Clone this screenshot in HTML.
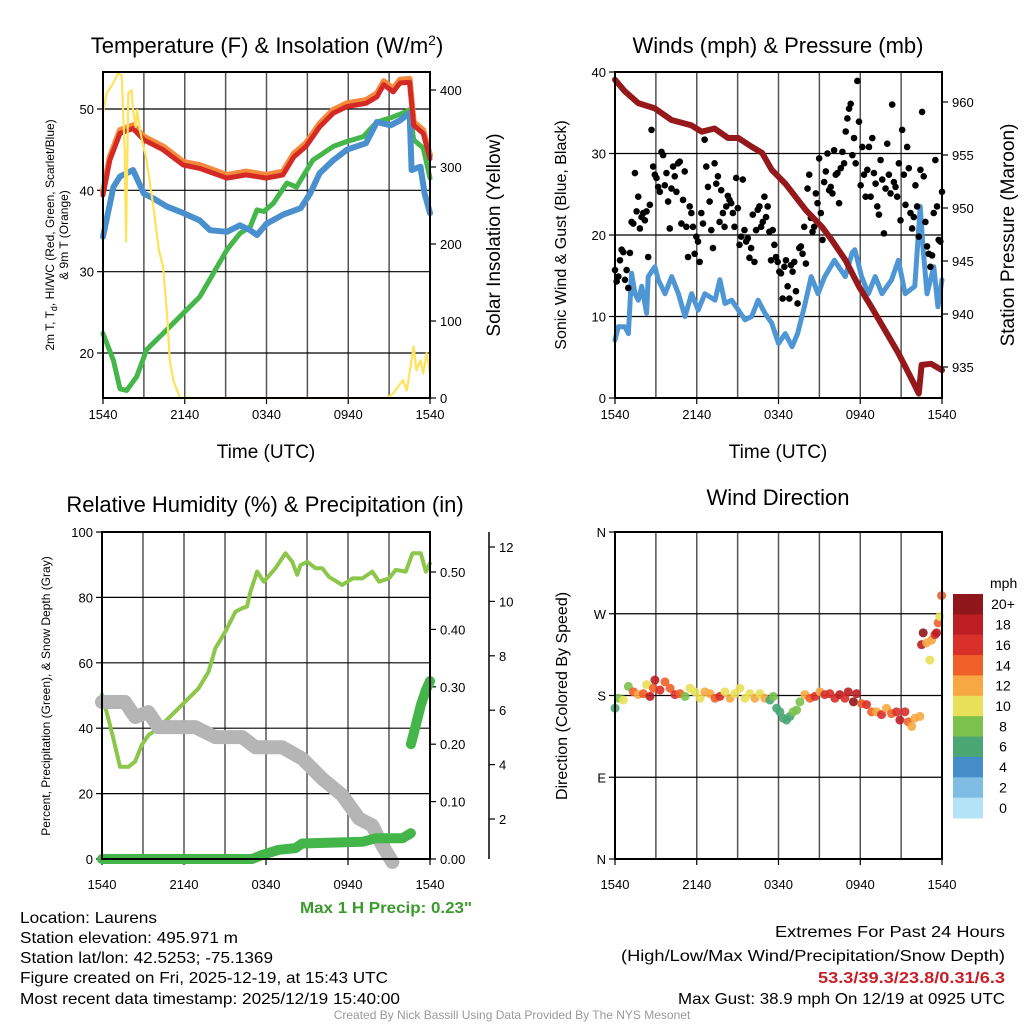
<!DOCTYPE html>
<html><head><meta charset="utf-8"><style>
html,body{margin:0;padding:0;background:#fff;}
svg{display:block;font-family:"Liberation Sans",sans-serif;}
</style></head><body>
<svg id="root" width="1024" height="1024" viewBox="0 0 1024 1024" xmlns="http://www.w3.org/2000/svg">
<rect width="1024" height="1024" fill="#fff"/>
<g id="g1"></g>
<g id="g2"></g>
<g id="g3"></g>
<g id="g4"></g>

<text x="267" y="53" font-size="22" text-anchor="middle">Temperature (F) &amp; Insolation (W/m<tspan dy="-8" font-size="14">2</tspan><tspan dy="8">)</tspan></text>
<text transform="translate(54,235) rotate(-90)" font-size="12" text-anchor="middle">2m T, T<tspan dy="3" font-size="9">d</tspan><tspan dy="-3">, HI/WC (Red, Green, Scarlet/Blue)</tspan></text>
<text transform="translate(68,235) rotate(-90)" font-size="12" text-anchor="middle">&amp; 9m T (Orange)</text>
<text transform="translate(500,235) rotate(-90)" font-size="19" text-anchor="middle">Solar Insolation (Yellow)</text>
<text x="266" y="458" font-size="19" text-anchor="middle">Time (UTC)</text>

<text x="778" y="53" font-size="22" text-anchor="middle">Winds (mph) &amp; Pressure (mb)</text>
<text transform="translate(566,235) rotate(-90)" font-size="16" text-anchor="middle">Sonic Wind &amp; Gust (Blue, Black)</text>
<text transform="translate(1014,235) rotate(-90)" font-size="19" text-anchor="middle">Station Pressure (Maroon)</text>
<text x="778" y="458" font-size="19" text-anchor="middle">Time (UTC)</text>

<text x="265" y="512" font-size="22" text-anchor="middle">Relative Humidity (%) &amp; Precipitation (in)</text>
<text transform="translate(50,696) rotate(-90)" font-size="12" text-anchor="middle">Percent, Precipitation (Green), &amp; Snow Depth (Gray)</text>
<text x="300" y="913" font-size="16" font-weight="bold" fill="#3a9a2c" textLength="172" lengthAdjust="spacingAndGlyphs">Max 1 H Precip: 0.23"</text>

<text x="778" y="505" font-size="22" text-anchor="middle">Wind Direction</text>
<text transform="translate(567,696) rotate(-90)" font-size="16" text-anchor="middle">Direction (Colored By Speed)</text>
<text x="990" y="588" font-size="14">mph</text>

<g font-size="16">
<text x="20" y="923" textLength="137" lengthAdjust="spacingAndGlyphs">Location: Laurens</text>
<text x="20" y="943" textLength="218" lengthAdjust="spacingAndGlyphs">Station elevation: 495.971 m</text>
<text x="20" y="963" textLength="253" lengthAdjust="spacingAndGlyphs">Station lat/lon: 42.5253; -75.1369</text>
<text x="20" y="983" textLength="368" lengthAdjust="spacingAndGlyphs">Figure created on Fri, 2025-12-19, at 15:43 UTC</text>
<text x="20" y="1004" textLength="380" lengthAdjust="spacingAndGlyphs">Most recent data timestamp: 2025/12/19 15:40:00</text>
</g>
<g font-size="16">
<text x="775" y="937" textLength="230" lengthAdjust="spacingAndGlyphs">Extremes For Past 24 Hours</text>
<text x="621" y="961" textLength="384" lengthAdjust="spacingAndGlyphs">(High/Low/Max Wind/Precipitation/Snow Depth)</text>
<text x="818" y="983" textLength="187" lengthAdjust="spacingAndGlyphs" font-weight="bold" fill="#c8202a">53.3/39.3/23.8/0.31/6.3</text>
<text x="678" y="1004" textLength="327" lengthAdjust="spacingAndGlyphs">Max Gust: 38.9 mph On 12/19 at 0925 UTC</text>
</g>
<text x="512" y="1019" font-size="12" fill="#999" text-anchor="middle">Created By Nick Bassill Using Data Provided By The NYS Mesonet</text>
</svg>
<script>
// ---------- data ----------
const xTickLabels = ["1540","2140","0340","0940","1540"];
const tempHours = [0,0.5,1.25,2.2,3.0,4.4,5.9,7.1,9.1,10.5,12.0,13.2,14.0,14.9,15.9,16.9,17.9,19.3,20.1,20.6,21.3,21.8,22.5,22.8,23.5,24];
const tempVals = [39.4,43.7,47.0,47.6,46.2,45.0,43.1,42.7,41.5,41.9,41.5,41.9,44.1,45.4,47.8,49.5,50.3,50.7,51.5,53.0,52.1,53.2,53.3,48.0,47.0,43.9];
const dewHours = [0,0.76,1.25,2.2,3.0,3.7,4.7,5.9,7.1,7.85,9.1,10.05,10.8,11.3,12.0,13.2,14.5,15.2,15.9,16.9,17.9,19.3,20.1,21.1,21.8,22.5,22.65,23.3,23.6,24];
const dewVals = [34.3,40.4,41.7,42.5,39.6,39.0,38.0,37.2,36.3,35.1,34.9,35.7,35.1,34.5,35.9,37.0,37.8,39.6,42.1,43.7,45.0,45.8,48.4,48.0,48.6,49.5,42.5,42.9,39.6,37.2];
const wcHours = [0,0.76,1.25,1.74,2.47,3.2,4.4,5.9,7.1,8.1,9.1,10.05,10.8,11.3,11.8,12.5,13.5,14.2,15.4,16.9,17.9,19.1,20.1,21.1,22.0,22.5,22.8,23.5,24];
const wcVals = [22.4,19.1,15.6,15.4,17.1,20.4,22.4,24.9,26.9,29.8,32.7,34.7,35.5,37.6,37.4,38.4,40.9,40.4,43.7,45.4,46.0,46.6,48.4,48.9,49.5,49.9,46.2,45.2,41.5];
const solarHours = [0,0.27,0.76,1.1,1.37,1.6,1.69,1.86,2.1,2.2,2.4,2.5,2.7,3.2,3.7,4.1,4.4,4.7,4.9,5.16,5.65,20.8,21.3,22.0,22.3,22.8,23.0,23.3,23.5,23.75,24];
const solarVals = [370,396,409,422,419,318,203,396,400,374,352,374,348,309,248,192,171,110,49,23,0,0,6,23,10,67,36,49,32,58,32];

const presHours = [0,0.73,1.7,2.93,4.15,5.6,6.36,7.3,8.3,9.05,10.0,10.8,11.5,12.5,14.0,15.2,15.9,16.9,17.9,18.8,19.8,20.8,21.8,22.3,22.5,23.2,24];
const presVals = [962.1,961.0,959.9,959.4,958.3,957.8,957.2,957.5,956.6,956.6,955.8,955.2,953.6,952.3,949.8,948.2,947.0,945.1,942.6,940.7,938.5,936.3,933.8,932.5,935.2,935.3,934.7];
const windHours = [0,0.24,0.73,0.98,1.22,1.47,1.71,1.96,2.32,2.44,2.93,3.18,3.67,4.16,4.65,5.14,5.62,6.11,6.6,7.34,7.7,8.07,8.56,9.05,9.54,10.03,10.5,11.0,11.5,12.0,12.5,13.0,13.4,13.9,14.4,14.9,15.4,16.1,16.9,17.4,17.6,18.1,18.6,19.1,19.6,20.3,20.8,21.3,22.0,22.4,22.6,22.9,23.4,23.7,24];
const windVals = [7.1,8.75,8.75,7.9,15.3,12.8,12.0,13.7,10.4,14.9,16.1,14.5,12.8,14.9,12.8,10.0,12.8,10.8,12.8,12.0,14.5,11.6,12.0,10.8,9.6,10.0,12.0,10.4,9.2,6.7,7.9,6.3,7.9,11.2,14.9,12.8,14.9,16.9,14.9,17.8,18.2,14.9,12.8,14.9,12.8,14.5,16.9,12.8,13.7,23.5,18.6,12.8,16.1,11.2,14.5];
const gustVals = [15.7,14.3,14.9,16.9,18.2,17.9,14.5,15.7,13.5,17.8,21.6,21.4,27.6,22.9,24.7,20.8,22.2,22.7,21.8,22.9,17.3,23.7,32.9,28.4,27.4,27.0,25.9,25.3,30.2,29.8,26.1,27.6,24.1,20.8,25.7,28.4,27.2,25.3,28.8,29.0,21.4,24.3,27.8,21.0,17.3,23.5,22.7,21.0,17.7,19.8,19.2,16.7,22.7,21.4,31.7,28.4,25.9,24.1,20.6,18.4,28.8,26.3,27.2,21.6,25.5,22.7,21.0,23.5,24.8,24.3,23.9,22.7,21.0,27.0,23.3,18.8,19.8,26.8,20.6,19.2,19.6,17.2,18.4,22.5,16.7,20.6,23.1,23.5,21.0,21.6,24.7,22.2,23.5,20.4,16.9,20.6,18.8,17.3,16.7,15.5,15.3,12.2,16.1,16.9,13.7,12.2,16.3,15.5,16.7,13.1,11.6,18.4,18.6,17.7,21.0,16.5,25.7,27.4,22.1,20.4,21.0,25.1,23.9,29.4,22.7,19.4,26.5,27.8,30.0,25.5,25.9,25.1,30.4,27.4,27.6,23.9,28.2,30.2,28.8,32.7,34.3,35.5,36.1,29.8,31.9,28.8,38.9,33.9,26.1,30.8,27.4,24.7,28.0,30.8,24.7,31.9,27.6,26.3,23.5,22.5,29.2,26.8,20.2,25.7,31.2,27.4,25.1,36.0,26.5,25.9,24.7,28.8,21.8,32.9,27.4,23.7,30.8,28.2,22.7,20.8,22.2,26.1,23.5,19.8,28.0,35.1,27.2,21.6,18.6,17.7,16.1,17.5,22.7,29.2,23.5,19.4,19.2,25.3];

const rhHours = [0,0.46,0.83,1.32,1.93,2.42,2.91,3.4,4.13,5.1,6.09,7.07,7.8,8.29,9.02,9.76,10.25,10.61,10.86,11.35,11.84,12.69,13.43,13.92,14.28,14.53,15.02,15.63,16.12,16.6,17.58,18.32,19.05,19.78,20.27,21.0,21.49,22.23,22.72,23.33,23.7,24];
const rhVals = [50.2,43.0,36.9,28.2,28.2,29.8,34.9,37.9,40.0,44.0,48.1,52.2,57.3,64.4,69.5,75.6,76.7,77.2,81.7,87.9,84.8,88.9,93.5,90.9,86.9,89.9,90.9,88.9,88.9,86.3,83.8,85.8,85.8,87.9,84.8,85.8,88.4,87.9,93.5,93.5,87.9,90.4];
const snowHours = [0,1.68,2.42,3.4,4.13,6.82,8.29,10.25,11.22,13.18,14.65,16.12,17.58,18.81,19.78,20.51,21.25];
const snowVals = [6.3,6.3,5.75,5.93,5.38,5.38,5.01,5.01,4.64,4.64,4.22,3.48,2.87,2.01,1.76,1.03,0.42];
const precipHours = [0,10.98,11.71,12.93,14.16,14.65,19.05,20.03,21.98,22.6];
const precipVals = [0,0,0.007,0.016,0.019,0.027,0.030,0.036,0.036,0.045];
const precip2Hours = [22.6,22.96,23.33,23.7,24];
const precip2Vals = [0.20,0.233,0.268,0.294,0.31];

const dirHours = [0,0.24,0.61,0.98,1.35,1.71,2.08,2.32,2.57,2.81,2.93,3.3,3.67,4.04,4.4,4.77,5.14,5.5,5.87,6.24,6.6,6.97,7.34,7.7,8.07,8.44,8.8,9.17,9.54,9.9,10.27,10.64,11.0,11.37,11.62,11.86,12.1,12.35,12.59,12.84,13.08,13.33,13.57,13.94,14.3,14.67,15.04,15.4,15.77,16.14,16.5,16.87,17.12,17.5,17.73,18.1,18.46,18.83,19.2,19.56,19.93,20.3,20.67,20.91,21.28,21.52,21.77,22.01,22.38,22.5,22.62,22.87,23.11,23.23,23.48,23.6,23.72,23.84,23.97];
const dirDeg = [166,177,175,190,184,181,182,192,179,188,197,186,195,188,181,182,179,188,184,177,184,182,177,179,184,177,182,188,177,182,177,182,177,175,179,166,162,155,153,157,162,164,173,181,177,179,184,181,182,177,181,177,184,173,182,171,170,162,162,159,166,160,162,153,162,151,146,155,157,236,249,238,219,241,247,249,260,267,290];
const dirSpd = [6,8,10,8,14,12,14,10,18,14,18,16,14,14,16,14,8,10,10,10,12,12,14,16,10,12,10,10,10,10,12,10,12,6,8,6,6,6,6,6,8,8,8,12,14,16,12,16,16,16,18,16,18,20,18,14,16,14,12,16,12,14,16,18,16,14,12,12,12,18,20,12,10,12,16,18,14,10,14];
const cbLabels = ["20+","18","16","14","12","10","8","6","4","2","0"];
const cbColors = ["#8f161a","#bd1e24","#d9302a","#f06029","#f8a843","#e8e058","#7bc24c","#4aa672","#458dc8","#7fbce4","#b3e3f7"];
const tempTicks = [20,30,40,50];
const solarTicks = [0,100,200,300,400];
const windTicks = [0,10,20,30,40];
const presTicks = [935,940,945,950,955,960];
const rhTicks = [0,20,40,60,80,100];
const precipTicks = [0,0.1,0.2,0.3,0.4,0.5];
const precipTickLabels = ["0.00","0.10","0.20","0.30","0.40","0.50"];
const snowTicks = [2,4,6,8,10,12];
const dirTicks = [0,90,180,270,360];
const dirLabels = ["N","E","S","W","N"];

// ---------- helpers ----------
const NS="http://www.w3.org/2000/svg";
function mk(tag,parent,attrs){const e=document.createElementNS(NS,tag);for(const k in attrs)e.setAttribute(k,attrs[k]);parent.appendChild(e);return e;}
function lin(d0,d1,r0,r1){return v=>r0+(v-d0)*(r1-r0)/(d1-d0);}
function pathD(xs,ys,sx,sy){return xs.map((h,i)=>(i?"L":"M")+sx(h).toFixed(1)+" "+sy(ys[i]).toFixed(1)).join(" ");}

function frame(g,L,R,T,B,sx,hlines,labOff){
  for(let k=1;k<8;k++){const x=sx(k*3);
    const v=mk("line",g,{x1:x,x2:x,y1:T,y2:B,stroke:"#555","stroke-width":1.5});
    
    }
  hlines.forEach(y=>{const h=mk("line",g,{x1:L,x2:R,y1:y,y2:y,stroke:"#000","stroke-width":1.2});
    
    });
  xTickLabels.forEach((lab,i)=>{const x=sx(i*6);
    const tk=mk("line",g,{x1:x,x2:x,y1:B,y2:B+6,stroke:"#000","stroke-width":1.2});
    
    
    const t=mk("text",g,{x:x,y:B+labOff,"font-size":13,"text-anchor":"middle"});t.textContent=lab;
    
    });
}
function border(g,L,R,T,B){const r=mk("rect",g,{x:L,y:T,width:R-L,height:B-T,fill:"none",stroke:"#000","stroke-width":2});
  
  }
function yTicks(g,ticks,labels,sy,x,side,name){ticks.forEach((v,i)=>{const y=sy(v);
  const tk=mk("line",g,{x1:x,x2:x+(side<0?-6:6),y1:y,y2:y,stroke:"#000","stroke-width":1.2});
  
  
  const t=mk("text",g,{x:x+(side<0?-9:10),y:y+5,"font-size":13,"text-anchor":side<0?"end":"start"});t.textContent=labels[i];
  
  });}
function line(g,xs,ys,sx,sy,color,w,name){const p=mk("path",g,{d:pathD(xs,ys,sx,sy),fill:"none",stroke:color,"stroke-width":w,"stroke-linejoin":"round","stroke-linecap":"round"});
  
  return p;}

// ---------- panel 1 ----------
{const g=document.getElementById("g1");const L=103,R=430,T=72,B=398;
 const sx=lin(0,24,L,R), sy=lin(20,50,353,109), sy2=lin(0,400,398,90);
 frame(g,L,R,T,B,sx,tempTicks.map(sy),21);
 yTicks(g,tempTicks,tempTicks.map(String),sy,L,-1,"temperature-y");
 yTicks(g,solarTicks,solarTicks.map(String),sy2,R,1,"solar-y");
 line(g,wcHours,wcVals,sx,sy,"#45b649",5,"heat-index-windchill-line");
 line(g,dewHours,dewVals,sx,sy,"#4a90cf",6,"dewpoint-line");
 line(g,tempHours,tempVals.map(v=>v+0.4),sx,sy,"#f58a3c",6,"9m-temperature-line");
 line(g,tempHours,tempVals,sx,sy,"#d42a26",5,"2m-temperature-line");
 line(g,solarHours,solarVals,sx,sy2,"#fde25a",2.2,"solar-insolation-line");
 border(g,L,R,T,B);}

// ---------- panel 2 ----------
{const g=document.getElementById("g2");const L=615,R=942,T=72,B=398;
 const sx=lin(0,24,L,R), sy=lin(0,40,398,72), sy2=lin(935,960,367,102);
 frame(g,L,R,T,B,sx,windTicks.map(sy),21);
 yTicks(g,windTicks,windTicks.map(String),sy,L,-1,"wind-y");
 yTicks(g,presTicks,presTicks.map(String),sy2,R,1,"pressure-y");
 line(g,windHours,windVals,sx,sy,"#4f97d4",5,"sonic-wind-line");
 gustVals.forEach((v,i)=>{const c=mk("circle",g,{cx:sx(i*24/(gustVals.length-1)),cy:sy(v),r:3.3,fill:"#000"});
   
   });
 line(g,presHours,presVals,sx,sy2,"#95181b",6,"pressure-line");
 border(g,L,R,T,B);}

// ---------- panel 3 ----------
{const g=document.getElementById("g3");const L=102,R=430,T=532,B=859;
 const sx=lin(0,24,L,R), sy=lin(0,100,859,532), sp=lin(0,0.5,859,572), ss=lin(2,12,819,547);
 frame(g,L,R,T,B,sx,rhTicks.map(sy),30);
 yTicks(g,rhTicks,rhTicks.map(String),sy,L,-1,"humidity-y");
 yTicks(g,precipTicks,precipTickLabels,sp,R,1,"precip-y");
 const ax=mk("line",g,{x1:489,x2:489,y1:532,y2:859,stroke:"#000","stroke-width":1.5});
 
 
 yTicks(g,snowTicks,snowTicks.map(String),ss,489,1,"snow-y");
 line(g,rhHours,rhVals,sx,sy,"#8cc64a",4,"relative-humidity-line");
 line(g,snowHours,snowVals,sx,ss,"#b5b5b5",14,"snow-depth-line");
 line(g,precipHours,precipVals,sx,sp,"#44b649",10,"precipitation-line");
 line(g,precip2Hours,precip2Vals,sx,sp,"#44b649",10,"precipitation-line-2");
 border(g,L,R,T,B);}

// ---------- panel 4 ----------
{const g=document.getElementById("g4");const L=615,R=942,T=532,B=859;
 const sx=lin(0,24,L,R), sy=lin(0,360,859,532);
 frame(g,L,R,T,B,sx,dirTicks.map(sy),30);
 yTicks(g,dirTicks,dirLabels,sy,L,-1,"direction-y");
 const col=s=>cbColors[Math.max(0,Math.min(10,10-Math.floor(s/2)))];
 dirDeg.forEach((d,i)=>{const c=mk("circle",g,{cx:sx(dirHours[i]),cy:sy(d),r:4.5,fill:col(dirSpd[i]),"fill-opacity":0.9});
   
   });
 border(g,L,R,T,B);
 const h=(818-594)/11;
 cbColors.forEach((c,i)=>{const r=mk("rect",g,{x:953,y:594+i*h,width:30,height:h+0.5,fill:c});
   
   
   const t=mk("text",g,{x:1003,y:594+i*h+h/2+5,"font-size":14,"text-anchor":"middle"});t.textContent=cbLabels[i];
   
   });}
</script>
</body></html>
